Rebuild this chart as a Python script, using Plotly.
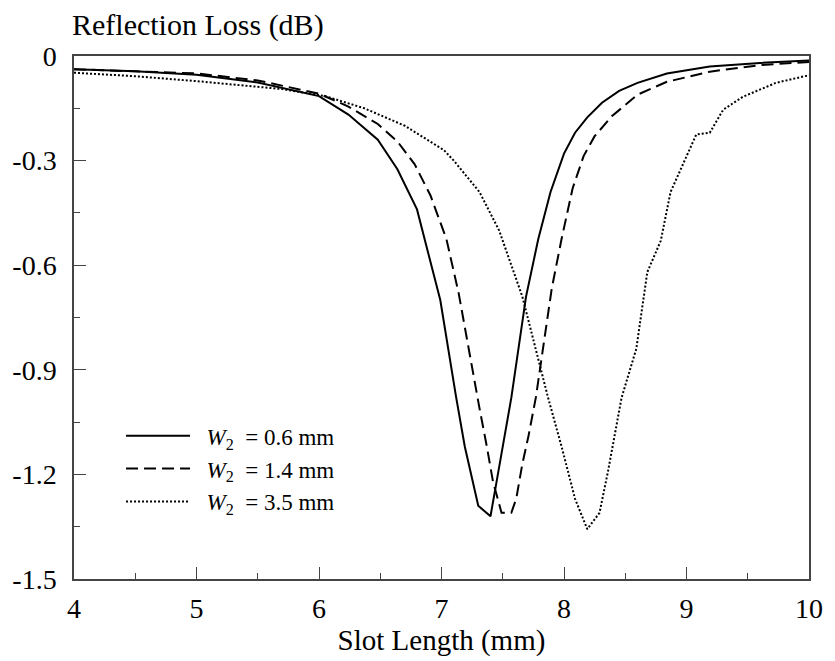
import plotly.graph_objects as go

# ---- data ----
x_w06 = [4.0, 4.5, 5.0, 5.5, 6.0, 6.24, 6.48, 6.64, 6.80, 6.99, 7.12, 7.19, 7.30, 7.40,
         7.45, 7.57, 7.69, 7.79, 7.89, 8.0, 8.09, 8.19, 8.31, 8.45, 8.60, 8.84, 9.19, 9.6, 10.0]
y_w06 = [-0.038, -0.044, -0.054, -0.076, -0.115, -0.168, -0.24, -0.325, -0.44, -0.70, -0.98,
         -1.12, -1.29, -1.32, -1.22, -0.98, -0.69, -0.525, -0.39, -0.28, -0.22, -0.176,
         -0.134, -0.10, -0.077, -0.05, -0.03, -0.02, -0.013]

x_w14 = [4.0, 4.5, 5.0, 5.5, 6.0, 6.24, 6.48, 6.64, 6.78, 6.91, 7.04, 7.14, 7.22, 7.31, 7.37,
         7.42, 7.49, 7.57, 7.61, 7.66, 7.71, 7.77, 7.90, 7.98, 8.07, 8.16, 8.25, 8.39, 8.60,
         8.84, 9.19, 9.6, 10.0]
y_w14 = [-0.038, -0.043, -0.05, -0.07, -0.108, -0.145, -0.195, -0.245, -0.31, -0.40, -0.525,
         -0.68, -0.84, -1.01, -1.12, -1.22, -1.31, -1.31, -1.27, -1.17, -1.09, -0.98, -0.667,
         -0.525, -0.38, -0.287, -0.23, -0.173, -0.111, -0.074, -0.045, -0.026, -0.017]

x_w35 = [4.0, 4.5, 5.03, 5.7, 6.05, 6.37, 6.70, 7.02, 7.10, 7.31, 7.47, 7.66, 7.87, 7.98,
         8.09, 8.19, 8.29, 8.36, 8.47, 8.59, 8.68, 8.79, 8.87, 8.98, 9.08, 9.19, 9.30, 9.46,
         9.73, 10.0]
y_w35 = [-0.048, -0.058, -0.073, -0.095, -0.115, -0.15, -0.2, -0.27, -0.30, -0.39, -0.50,
         -0.69, -0.98, -1.12, -1.27, -1.357, -1.31, -1.19, -0.98, -0.84, -0.62, -0.53, -0.39,
         -0.305, -0.225, -0.22, -0.154, -0.117, -0.077, -0.055]

series_names = ["&nbsp;&nbsp;<i>W</i><sub>2</sub> &nbsp;= 0.6 mm",
                "&nbsp;&nbsp;<i>W</i><sub>2</sub> &nbsp;= 1.4 mm",
                "&nbsp;&nbsp;<i>W</i><sub>2</sub> &nbsp;= 3.5 mm"]
series_dash = ["solid", "12px,6px", "2px,2px"]

x_ticks = [4, 5, 6, 7, 8, 9, 10]
y_ticks = [0, -0.3, -0.6, -0.9, -1.2, -1.5]
y_tick_text = ["0", "-0.3", "-0.6", "-0.9", "-1.2", "-1.5"]

x_title = "Slot Length (mm)"
y_title = "Reflection Loss (dB)"

FONT = "Times New Roman"

fig = go.Figure()
for xs, ys, name, dash in zip([x_w06, x_w14, x_w35], [y_w06, y_w14, y_w35],
                              series_names, series_dash):
    fig.add_trace(go.Scatter(x=xs, y=ys, mode="lines", name=name,
                             line=dict(color="black", width=2, dash=dash)))

fig.update_xaxes(range=[4, 10], tickvals=x_ticks,
                 showgrid=False, zeroline=False, showline=True, mirror=True,
                 linecolor="#444", linewidth=1.5,
                 ticks="inside", ticklen=12, tickwidth=1, tickcolor="#444",
                 tickfont=dict(family=FONT, size=28),
                 minor=dict(ticks="inside", ticklen=6, dtick=0.5, tickcolor="#444"),
                 title=dict(text=x_title, font=dict(family=FONT, size=29), standoff=4),
                 ticklabelstandoff=4)
fig.update_yaxes(range=[-1.5, 0], tickvals=y_ticks, ticktext=y_tick_text,
                 showgrid=False, zeroline=False, showline=True, mirror=True,
                 linecolor="#444", linewidth=1.5,
                 ticks="inside", ticklen=12, tickwidth=1, tickcolor="#444",
                 tickfont=dict(family=FONT, size=28),
                 minor=dict(ticks="inside", ticklen=6, dtick=0.15, tickcolor="#444"),
                 ticklabelstandoff=10)

fig.add_annotation(text=y_title, xref="paper", yref="paper", x=0, y=1.059,
                   xanchor="left", yanchor="middle", showarrow=False, xshift=-4,
                   font=dict(family=FONT, size=30))

fig.update_layout(
    width=835, height=661,
    margin=dict(l=72, r=18, t=56, b=79),
    paper_bgcolor="white", plot_bgcolor="white",
    font=dict(family=FONT, color="#000"),
    showlegend=True,
    legend=dict(x=0.064, y=0.315, xanchor="left", yanchor="top",
                bgcolor="rgba(0,0,0,0)", borderwidth=0,
                font=dict(family=FONT, size=23),
                itemwidth=64, tracegroupgap=0),
)

fig.write_html("out.html")
